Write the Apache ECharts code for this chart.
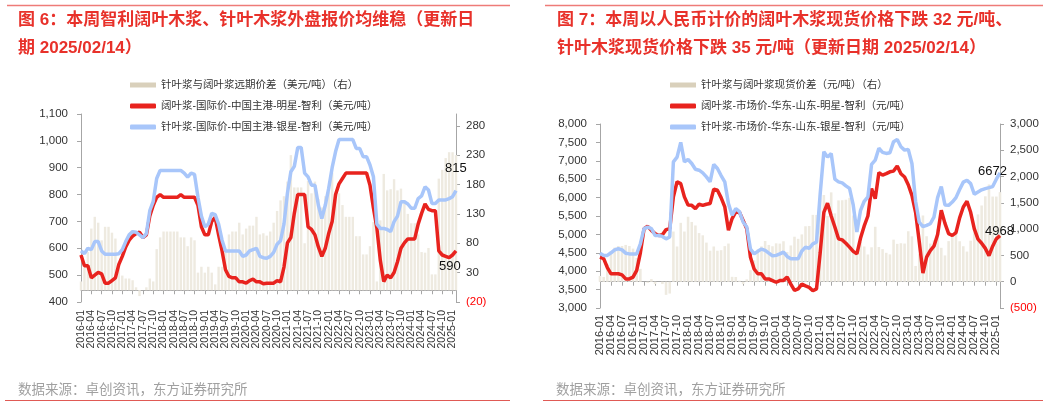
<!DOCTYPE html>
<html>
<head>
<meta charset="utf-8">
<script src="https://cdn.jsdelivr.net/npm/echarts@6/dist/echarts.min.js"></script>
<style>
html, body { margin: 0; padding: 0; background: #fff; }
#chart { width: 1061px; height: 407px; }
</style>
</head>
<body>
<div id="chart"></div>
<script>
// 月度类目 2016-01 ~ 2025-02
var months = [];
for (var yr = 2016; yr <= 2025; yr++) {
    for (var mo = 1; mo <= 12; mo++) {
        if (yr === 2025 && mo > 2) break;
        months.push(yr + "-" + (mo < 10 ? "0" + mo : mo));
    }
}

// 图6 外盘报价（美元/吨）
var usdHardwood = [
    575, 535, 535, 490, 500, 510, 505, 470, 470, 480, 490, 540,
    570, 605, 630, 645, 655, 660, 640, 650, 720, 760, 790, 800,
    790, 790, 790, 790, 790, 800, 790, 790, 790, 790, 760, 680,
    650, 650, 700, 715, 650, 590, 520, 495, 490, 490, 475, 475,
    470, 480, 485, 475, 475, 468, 470, 470, 470, 480, 475, 530,
    620, 640, 730, 800, 800, 800, 680, 670, 650, 605, 570, 600,
    655, 700, 800, 840, 860, 880, 880, 880, 880, 880, 880, 880,
    835, 750, 675, 555, 476, 500, 490, 510, 550, 600, 620, 635,
    635, 635, 690, 730, 765, 745, 740, 740, 590, 575, 570, 565,
    575, 590
];
var usdSoftwood = [
    590, 580, 600, 595, 625, 625, 590, 578, 578, 578, 578, 580,
    595, 625, 650, 662, 660, 650, 640, 655, 740, 775, 860, 890,
    890, 890, 890, 890, 890, 890, 880, 865, 880, 875, 790, 720,
    680, 690, 730, 725, 690, 630, 590, 590, 590, 590, 590, 570,
    575, 590, 595, 600, 570, 565, 563, 570, 585, 615, 628, 690,
    805, 885, 905, 975, 975, 880, 866, 835, 835, 760, 711, 760,
    823, 900, 960, 1005, 1005, 1005, 1005, 1005, 972, 972, 941, 941,
    910, 866, 690, 674, 674, 670, 662, 699, 720, 773, 773, 765,
    749, 749, 785, 795, 829, 817, 767, 767, 780, 780, 780, 785,
    792, 815
];
var usdSpread = [
    15, 45, 65, 105, 125, 115, 85, 108, 108, 98, 88, 40,
    25, 20, 20, 17, 5, -10, 0, 5, 20, 15, 70, 90,
    100, 100, 100, 100, 100, 90, 90, 75, 90, 85, 30, 40,
    30, 40, 30, 10, 40, 40, 70, 95, 100, 100, 115, 95,
    105, 110, 110, 125, 95, 97, 93, 100, 115, 135, 153, 160,
    185, 230, 175, 175, 175, 80, 186, 165, 185, 155, 141, 160,
    168, 200, 160, 165, 145, 125, 125, 125, 92, 92, 61, 61,
    75, 116, 15, 119, 198, 170, 172, 189, 170, 173, 153, 130,
    114, 114, 95, 65, 64, 72, 27, 27, 190, 205, 225, 235,
    235, 230
];

// 图7 华东山东现货价（元/吨）
var cnyHardwood = [
    4380, 4340, 4100, 3930, 3930, 3930, 3900, 3790, 3790, 3840, 4020, 4500,
    5155, 5220, 5110, 5020, 4970, 4990, 5130, 5155, 6020, 6430, 6380, 6020,
    5800, 5790, 5700, 5820, 5790, 5820, 5840, 6230, 6200, 6000, 5750, 5110,
    5430, 5610, 5600, 5380, 5155, 4380, 4060, 3930, 3930, 3790, 3790, 3745,
    3700, 3745, 3750, 3840, 3650, 3480, 3520, 3650, 3600, 3560, 3470, 3520,
    4500, 5600, 5850, 5500, 5200, 4880, 4850, 4760, 4655, 4540, 4470, 4900,
    5230, 5500, 6245, 5970, 6680, 6610, 6650, 6700, 6720, 6860, 6650, 6560,
    6350, 6060, 5600, 4800, 3950, 4380, 4560, 4680, 5000, 5655, 5300, 5020,
    4970, 5050, 5450, 5745, 5900, 5600, 5150, 4870, 4760, 4620, 4420, 4680,
    4880, 4968
];
var cnySoftwood = [
    4490, 4430, 4430, 4500, 4580, 4610, 4580, 4490, 4470, 4470, 4470, 4745,
    5155, 5200, 5160, 4970, 4970, 4945, 4880, 4930, 6970, 7100, 7500, 6970,
    7036, 6927, 6770, 6745, 6673, 6564, 6430, 6900, 6790, 6600, 6430, 5836,
    5520, 5700, 5620, 5336, 5200, 4600, 4470, 4540, 4600, 4565, 4490, 4420,
    4430, 4470, 4520, 4400, 4340, 4336, 4336, 4550, 4655, 4620, 4745, 4790,
    6100, 7250, 7100, 7200, 6500, 6427, 6400, 6320, 6250, 5800, 5064, 5655,
    5900, 6018, 6900, 7018, 7340, 7230, 7200, 7220, 7520, 7580, 7382, 7290,
    7310, 6927, 5900, 5330, 5210, 5245, 5290, 5470, 6000, 6300, 5800, 5790,
    5880, 6000, 6220, 6420, 6473, 6380, 6090, 6150, 6210, 6245, 6270, 6300,
    6500, 6672
];
var cnySpread = [
    110, 90, 330, 570, 650, 680, 680, 700, 680, 630, 450, 245,
    0, -20, 50, -45, 0, -45, -250, -225, 955, 670, 1120, 955,
    1236, 1137, 1070, 925, 883, 744, 590, 670, 590, 600, 677, 726,
    93, 90, 20, -46, 45, 220, 406, 613, 673, 775, 700, 675,
    730, 725, 770, 564, 690, 856, 816, 900, 1055, 1060, 1272, 1270,
    1600, 1650, 1250, 1700, 1300, 1547, 1550, 1560, 1595, 1260, 594, 755,
    670, 518, 655, 1045, 660, 620, 550, 520, 800, 720, 732, 726,
    960, 863, 300, 530, 1260, 865, 726, 790, 1000, 645, 500, 772,
    907, 950, 770, 675, 573, 780, 940, 1280, 1450, 1625, 1850, 1620,
    1620, 1704
];

var leftNames = [
    "针叶浆与阔叶浆远期价差（美元/吨）（右）",
    "阔叶浆-国际价-中国主港-明星-智利（美元/吨）",
    "针叶浆-国际价-中国主港-银星-智利（美元/吨）"
];
var rightNames = [
    "针叶浆与阔叶浆现货价差（元/吨）（右）",
    "阔叶浆-市场价-华东-山东-明星-智利（元/吨）",
    "针叶浆-市场价-华东-山东-银星-智利（元/吨）"
];

var FONT = "'Liberation Sans', 'Noto Sans CJK SC', sans-serif";
var CJK = "'Noto Sans CJK SC', sans-serif";
var RED = "#e8231e";
var BLUE = "#a8c6fa";
var BAR = "#eeeae0";
var GREY = "#a6a6a6";

function thousands(v) {
    return String(Math.abs(v)).replace(/\B(?=(\d{3})+(?!\d))/g, ",");
}
function fmt(v) {
    v = Number(v);
    return v < 0 ? "(" + thousands(v) + ")" : thousands(v);
}
function everyThird(index) {
    return index % 3 === 0;
}

function xAxisFor(gridIndex, margin, size) {
    return {
        type: "category",
        gridIndex: gridIndex,
        data: months,
        boundaryGap: false,
        axisLine: { lineStyle: { color: GREY } },
        axisTick: { interval: everyThird, length: 4, lineStyle: { color: GREY } },
        axisLabel: {
            interval: everyThird,
            rotate: 90,
            margin: margin,
            fontSize: size,
            lineHeight: size - 1,
            color: "#333",
            fontFamily: FONT,
            hideOverlap: false,
            showMinLabel: true
        },
        splitLine: { show: false }
    };
}

function yAxisFor(gridIndex, pos, min, max, extra) {
    var ax = {
        type: "value",
        gridIndex: gridIndex,
        position: pos,
        min: min,
        max: max,
        axisLine: { show: true, lineStyle: { color: GREY } },
        axisTick: { show: true, length: 4, lineStyle: { color: GREY } },
        axisLabel: {
            margin: pos === "left" ? 13 : 10,
            fontSize: 11.5,
            fontFamily: FONT,
            formatter: fmt,
            color: function (v) {
                return Number(v) < 0 ? "#ff0000" : "#333";
            }
        },
        splitLine: { show: false }
    };
    for (var k in extra) {
        if (k === "customValues") {
            ax.axisLabel.customValues = extra[k];
            ax.axisTick.customValues = extra[k];
        } else {
            ax[k] = extra[k];
        }
    }
    return ax;
}

function legendFor(left, names) {
    return {
        orient: "vertical",
        left: left,
        top: 73,
        itemWidth: 26,
        itemHeight: 5,
        itemGap: 7,
        icon: "rect",
        textStyle: { fontSize: 10.5, color: "#333", fontFamily: FONT, lineHeight: 14 },
        data: [
            { name: names[0], itemStyle: { color: "#d9d0bb" } },
            { name: names[1], icon: "roundRect" },
            { name: names[2], icon: "roundRect" }
        ]
    };
}

function barSeries(name, xi, yi, data) {
    return {
        name: name,
        type: "bar",
        xAxisIndex: xi,
        yAxisIndex: yi,
        barWidth: "70%",
        itemStyle: { color: BAR },
        data: data
    };
}

function lineSeries(name, xi, yi, color, data, offset) {
    return {
        name: name,
        type: "line",
        xAxisIndex: xi,
        yAxisIndex: yi,
        showSymbol: false,
        smooth: false,
        lineStyle: { width: 3.5, color: color },
        itemStyle: { color: color },
        endLabel: {
            show: true,
            formatter: function (p) { return p.value; },
            offset: offset,
            fontSize: 13,
            color: "#111",
            fontFamily: FONT
        },
        data: data
    };
}

var chart = echarts.init(document.getElementById("chart"));

chart.setOption({
    backgroundColor: "#fff",
    animation: false,
    textStyle: { fontFamily: FONT },
    grid: [
        { left: 81, right: 605, top: 114, bottom: 105 },
        { left: 600, right: 61, top: 124, bottom: 99 }
    ],
    legend: [legendFor(125, leftNames), legendFor(665, rightNames)],
    xAxis: [xAxisFor(0, 8, 10.5), xAxisFor(1, 7, 11)],
    yAxis: [
        yAxisFor(0, "left", 400, 1100, { interval: 100 }),
        yAxisFor(0, "right", -20, 300, { customValues: [-20, 30, 80, 130, 180, 230, 280] }),
        yAxisFor(1, "left", 3000, 8000, { interval: 500 }),
        yAxisFor(1, "right", -500, 3000, { interval: 500 })
    ],
    series: [
        barSeries(leftNames[0], 0, 1, usdSpread),
        lineSeries(leftNames[1], 0, 0, RED, usdHardwood, [-25, 15]),
        lineSeries(leftNames[2], 0, 0, BLUE, usdSoftwood, [-19, -22]),
        barSeries(rightNames[0], 1, 3, cnySpread),
        lineSeries(rightNames[1], 1, 2, RED, cnyHardwood, [-23, -4]),
        lineSeries(rightNames[2], 1, 2, BLUE, cnySoftwood, [-30, -1])
    ],
    graphic: [
        { type: "line", shape: { x1: 7, y1: 5.5, x2: 510, y2: 5.5 }, style: { stroke: "#ee7b78", lineWidth: 1.5 } },
        { type: "line", shape: { x1: 545, y1: 5.5, x2: 1043, y2: 5.5 }, style: { stroke: "#ee7b78", lineWidth: 1.5 } },
        { type: "line", shape: { x1: 5, y1: 400.5, x2: 510, y2: 400.5 }, style: { stroke: "#e05a55", lineWidth: 1 } },
        { type: "line", shape: { x1: 543, y1: 400.5, x2: 1043, y2: 400.5 }, style: { stroke: "#e05a55", lineWidth: 1 } },
        {
            type: "text", x: 18, y: 20,
            style: { text: "图 6：本周智利阔叶木浆、针叶木浆外盘报价均维稳（更新日", font: "bold 17px " + FONT, fill: "#e8312a", verticalAlign: "middle" }
        },
        {
            type: "text", x: 18, y: 48,
            style: { text: "期 2025/02/14）", font: "bold 17px " + FONT, fill: "#e8312a", verticalAlign: "middle" }
        },
        {
            type: "text", x: 557, y: 20,
            style: { text: "图 7：本周以人民币计价的阔叶木浆现货价格下跌 32 元/吨、", font: "bold 17px " + FONT, fill: "#e8312a", verticalAlign: "middle" }
        },
        {
            type: "text", x: 557, y: 48,
            style: { text: "针叶木浆现货价格下跌 35 元/吨（更新日期 2025/02/14）", font: "bold 17px " + FONT, fill: "#e8312a", verticalAlign: "middle" }
        },
        {
            type: "text", x: 18, y: 389,
            style: { text: "数据来源：卓创资讯，东方证券研究所", font: "13.5px " + CJK, fill: "#a0a0a0", verticalAlign: "middle" }
        },
        {
            type: "text", x: 556, y: 389,
            style: { text: "数据来源：卓创资讯，东方证券研究所", font: "13.5px " + CJK, fill: "#a0a0a0", verticalAlign: "middle" }
        }
    ]
});
</script>
</body>
</html>
